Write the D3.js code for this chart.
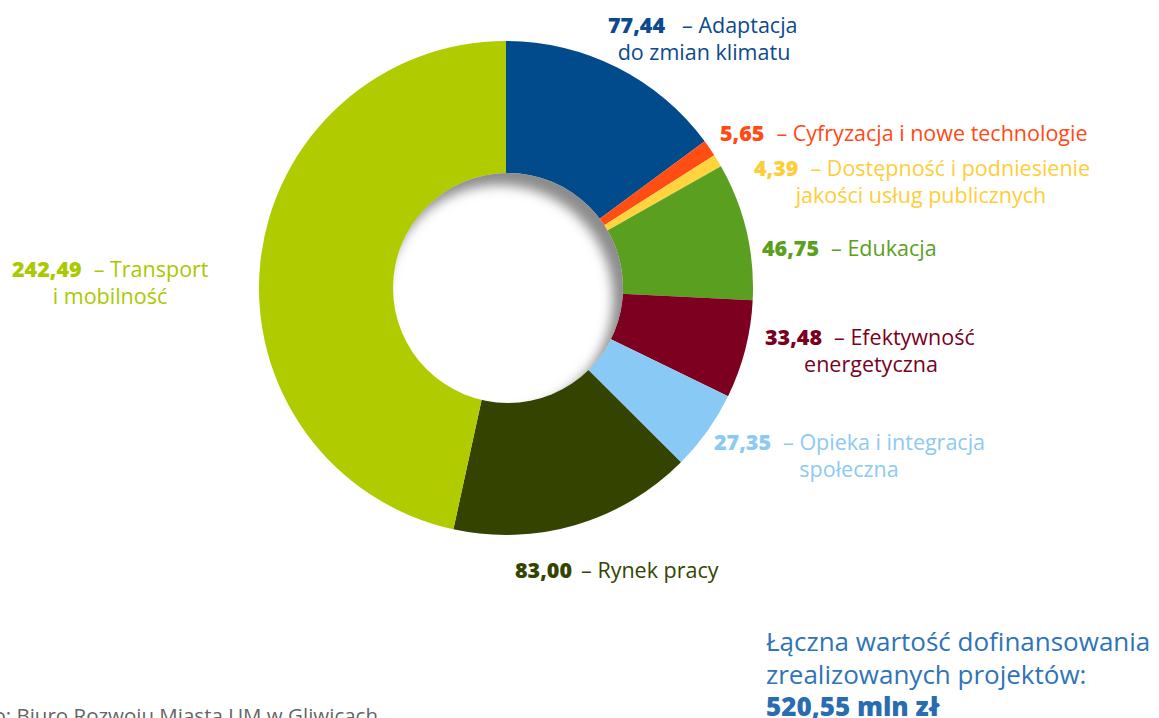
<!DOCTYPE html>
<html><head><meta charset="utf-8">
<script src="https://cdn.jsdelivr.net/npm/d3@7"></script>
<style>
html,body{margin:0;padding:0;background:#fff;overflow:hidden}
svg{display:block;font-family:"Open Sans","Noto Sans",sans-serif}
</style></head>
<body>
<svg id="c" width="1159" height="718"></svg>
<script>
const categories = ["Adaptacja do zmian klimatu","Cyfryzacja i nowe technologie","Dostępność i podniesienie jakości usług publicznych","Edukacja","Efektywność energetyczna","Opieka i integracja społeczna","Rynek pracy","Transport i mobilność"];
const values = [77.44, 5.65, 4.39, 46.75, 33.48, 27.35, 83.00, 242.49];
const valueLabels = ["77,44","5,65","4,39","46,75","33,48","27,35","83,00","242,49"];
const labelLine1 = ["– Adaptacja","– Cyfryzacja i nowe technologie","– Dostępność i podniesienie","– Edukacja","– Efektywność","– Opieka i integracja","– Rynek pracy","– Transport"];
const labelLine2 = ["do zmian klimatu","","jakości usług publicznych","","energetyczna","społeczna","","i mobilność"];
const colors = ["#014b8d","#ff4d14","#ffd43e","#5a9f1f","#7e0020","#88c9f6","#344300","#b0cc00"];
const textColors = ["#0b4a8c","#ff4a14","#ffcd38","#5aa01c","#7a0021","#8cc9f3","#344400","#aac900"];
const totalLines = ["Łączna wartość dofinansowania","zrealizowanych projektów:"];
const totalValue = "520,55 mln zł";
const sourceText = "Źródło: Biuro Rozwoju Miasta UM w Gliwicach";

// layout (positions only)
const cx = 506, cy = 288, rOuter = 247, rInner = 115;
const labelPos = [
  {x:608, y:33, gap:17, x2:704},
  {x:720, y:141, gap:12},
  {x:754, y:176, gap:12, x2:921},
  {x:762, y:256, gap:12},
  {x:765, y:345, gap:12, x2:871},
  {x:714, y:450, gap:12, x2:849},
  {x:515, y:578, gap:9},
  {x:12, y:277, gap:12, x2:110}
];

const svg = d3.select("#c");
const defs = svg.append("defs");
const f = defs.append("filter").attr("id","blur").attr("x","-50%").attr("y","-50%").attr("width","200%").attr("height","200%");
f.append("feGaussianBlur").attr("stdDeviation",6);
defs.append("clipPath").attr("id","holeClip").append("circle").attr("cx",cx+2).attr("cy",cy).attr("r",rInner);

const pie = d3.pie().sort(null).value(d=>d);
const arc = d3.arc().innerRadius(rInner-4).outerRadius(rOuter);
const g = svg.append("g").attr("transform",`translate(${cx},${cy})`);
g.selectAll("path").data(pie(values)).join("path")
  .attr("d",arc).attr("fill",(d,i)=>colors[i]);

// hole with inner shadow
svg.append("circle").attr("cx",cx+2).attr("cy",cy).attr("r",rInner).attr("fill","#fff");
svg.append("g").attr("clip-path","url(#holeClip)")
  .append("circle").attr("cx",cx+2-9).attr("cy",cy+11).attr("r",rInner+14)
  .attr("fill","none").attr("stroke","#777").attr("stroke-opacity",0.85).attr("stroke-width",30).attr("filter","url(#blur)");

// labels
const fs = 21.5, lh = 27;
labelPos.forEach((p,i)=>{
  const t = svg.append("text").attr("x",p.x).attr("y",p.y).attr("font-size",fs).attr("fill",textColors[i]);
  t.append("tspan").attr("font-weight",800).text(valueLabels[i]);
  t.append("tspan").attr("dx",p.gap).text(labelLine1[i]);
  if(labelLine2[i]){
    svg.append("text").attr("x",p.x2).attr("y",p.y+lh).attr("text-anchor","middle")
      .attr("font-size",fs).attr("fill",textColors[i]).text(labelLine2[i]);
  }
});

// total
const tb = svg.append("g").attr("fill","#2f74b7");
totalLines.forEach((s,i)=>tb.append("text").attr("x",766).attr("y",651+i*33).attr("font-size",26).text(s));
tb.append("text").attr("x",766).attr("y",716).attr("font-size",26).attr("font-weight",800).attr("fill","#2a6cb0").text(totalValue);

// source
svg.append("text").attr("x",378).attr("y",723).attr("text-anchor","end").attr("font-size",20.5).attr("fill","#666").text(sourceText);
</script>
</body></html>
